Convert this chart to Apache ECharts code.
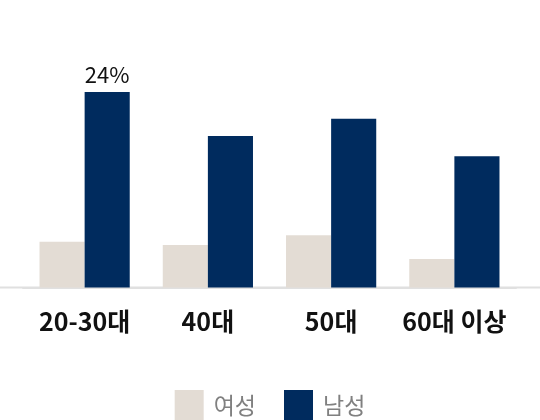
<!DOCTYPE html>
<html>
<head>
<meta charset="utf-8">
<script src="https://cdn.jsdelivr.net/npm/echarts@6/dist/echarts.min.js"></script>
<style>
html,body{margin:0;padding:0;background:#fff;}
#main{width:540px;height:420px;}
</style>
</head>
<body>
<div id="main"></div>
<script>
const categories = ['20-30대', '40대', '50대', '60대 이상'];
const seriesNames = ['여성', '남성'];
const femaleValues = [5.6, 5.2, 6.4, 3.5];
const maleValues = [24, 18.6, 20.7, 16.1];
const labeledIndex = 0;
const labelText = '24%';

const FONT = '"Noto Sans CJK KR", "Noto Sans", sans-serif';
const chart = echarts.init(document.getElementById('main'), null, {renderer: 'canvas'});

const maleData = maleValues.map((v, i) => i === labeledIndex ? {
  value: v,
  label: {show: true, position: 'top', distance: 6, formatter: labelText, fontSize: 22, color: '#111', fontFamily: FONT}
} : v);

chart.setOption({
  animation: false,
  backgroundColor: '#fff',
  grid: {left: 23, right: 24, top: 43, bottom: 132.5, containLabel: false},
  legend: {
    bottom: -5, left: 'center',
    itemWidth: 29, itemHeight: 30, itemGap: 28,
    icon: 'rect',
    textStyle: {fontSize: 23, color: '#808080', fontFamily: FONT, padding: [0, 0, 0, 5]},
    data: seriesNames
  },
  xAxis: {
    type: 'category',
    data: categories,
    axisLine: {show: true, lineStyle: {color: '#e0e0e0', width: 2}},
    axisTick: {show: false},
    axisLabel: {interval: 0, fontSize: 25, fontWeight: 'bold', color: '#111', margin: 21, fontFamily: FONT}
  },
  yAxis: {
    type: 'value', min: 0, max: 30,
    show: false, splitLine: {show: false}
  },
  series: [
    {name: seriesNames[0], type: 'bar', data: femaleValues, barGap: '0%', barCategoryGap: '26.8%',
     itemStyle: {color: '#e3dcd4'}},
    {name: seriesNames[1], type: 'bar', data: maleData, barGap: '0%', barCategoryGap: '26.8%',
     itemStyle: {color: '#002b5e'}}
  ]
});

const baseY = chart.convertToPixel({yAxisIndex: 0}, 0);
chart.setOption({
  graphic: [{
    type: 'line', z: 0, silent: true,
    shape: {x1: 0, y1: baseY, x2: 540, y2: baseY},
    style: {stroke: '#e0e0e0', lineWidth: 2}
  }]
});
</script>
</body>
</html>
